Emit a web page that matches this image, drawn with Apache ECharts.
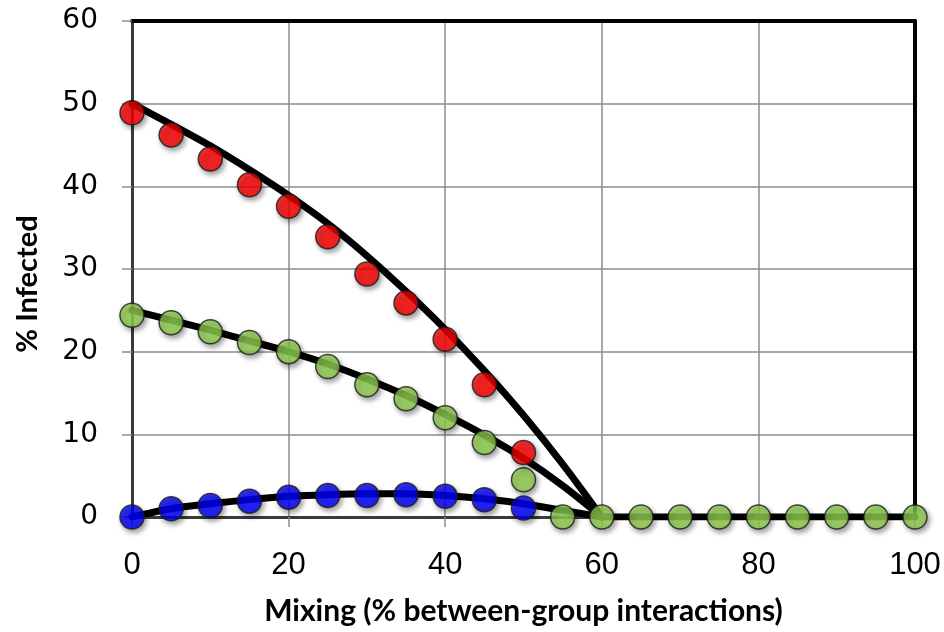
<!DOCTYPE html>
<html>
<head>
<meta charset="utf-8">
<script src="https://cdn.jsdelivr.net/npm/echarts@6/dist/echarts.min.js"></script>
<style>
  html, body { margin: 0; padding: 0; background: #fff; }
  #chart { width: 944px; height: 632px; }
</style>
</head>
<body>
<div id="chart"></div>
<script>
// Mixing level (% between-group interactions) for the simulated points
const mixing = [0, 5, 10, 15, 20, 25, 30, 35, 40, 45, 50, 55, 60, 65, 70, 75, 80, 85, 90, 95, 100];

// Simulated % infected (markers)
const redPoints   = [48.9, 46.2, 43.3, 40.2, 37.6, 33.9, 29.4, 25.9, 21.5, 16.0, 7.8];
const greenPoints = [24.4, 23.5, 22.4, 21.1, 20.0, 18.2, 16.0, 14.3, 12.0, 9.0, 4.5, 0, 0, 0, 0, 0, 0, 0, 0, 0, 0];
const bluePoints  = [0, 1.0, 1.4, 1.9, 2.4, 2.6, 2.6, 2.7, 2.5, 2.1, 1.1];

// Model curves (black lines), sampled on the same grid up to the threshold at 60
const curveX     = [0, 5, 10, 15, 20, 25, 30, 35, 40, 45, 50, 55, 60];
const redCurve   = [50, 47.5, 44.9, 42.0, 38.9, 35.5, 31.6, 27.3, 22.7, 17.7, 12.3, 6.4, 0];
const greenCurve = [25, 23.8, 22.6, 21.3, 20.0, 18.5, 16.7, 14.7, 12.4, 9.9, 7.1, 3.8, 0];
const blueCurve  = [0, 1.0, 1.6, 2.1, 2.5, 2.7, 2.8, 2.8, 2.6, 2.2, 1.6, 0.8, 0];

// Flat part beyond the threshold
const flatX = [60, 70, 80, 90, 100];
const flatY = [0, 0, 0, 0, 0];

const xTitle = 'Mixing (% between-group interactions)';
const yTitle = '% Infected';

const pairs = (xs, ys) => ys.map((y, i) => [xs[i], y]);

const chart = echarts.init(document.getElementById('chart'), null, { renderer: 'canvas' });

const gridStroke = '#8c8c8c';

function curve(name, xs, ys, smooth) {
  return {
    name, type: 'line', xAxisIndex: 0, yAxisIndex: 0,
    data: pairs(xs, ys),
    smooth: smooth,
    showSymbol: false, symbol: 'none',
    lineStyle: { color: '#000', width: 7, cap: 'round', join: 'round' },
    z: 3, silent: true
  };
}

function dots(name, xs, ys, color) {
  return {
    name, type: 'scatter', xAxisIndex: 0, yAxisIndex: 0,
    data: pairs(xs, ys),
    symbol: 'circle', symbolSize: 24,
    itemStyle: {
      color: color, borderColor: '#1a1a1a', borderWidth: 1.5,
      shadowColor: 'rgba(0,0,0,0.45)', shadowBlur: 5, shadowOffsetX: 2, shadowOffsetY: 3
    },
    z: 5, silent: true
  };
}

chart.setOption({
  backgroundColor: '#fff',
  animation: false,
  grid: { left: 132, right: 29, top: 21, bottom: 115, containLabel: false, outerBoundsMode: 'none' },
  xAxis: [
    {
      type: 'value', min: 0, max: 100, interval: 20, position: 'bottom',
      name: xTitle, nameLocation: 'middle', nameGap: 79,
      nameTextStyle: { fontFamily: 'Lato', fontWeight: 'bold', fontSize: 30, color: '#000' },
      axisLine: { show: true, onZero: false, lineStyle: { color: '#3a3a3a', width: 3 } },
      axisTick: { show: true, inside: false, length: 10, lineStyle: { color: gridStroke, width: 1.5 } },
      axisLabel: { fontFamily: 'Liberation Sans', fontSize: 31, color: '#000', margin: 33 },
      splitLine: { show: true, lineStyle: { color: gridStroke, width: 1.5 } }
    },
    {
      type: 'value', min: 0, max: 100, position: 'top',
      axisLine: { show: true, onZero: false, lineStyle: { color: '#000', width: 4 } },
      axisTick: { show: false }, axisLabel: { show: false }, splitLine: { show: false }
    }
  ],
  yAxis: [
    {
      type: 'value', min: 0, max: 60, interval: 10, position: 'left',
      name: yTitle, nameLocation: 'middle', nameGap: 90, nameRotate: 90,
      nameTextStyle: { fontFamily: 'Lato', fontWeight: 'bold', fontSize: 29, color: '#000', padding: [0, 30, 0, 0] },
      axisLine: { show: true, onZero: false, lineStyle: { color: '#3a3a3a', width: 3 } },
      axisTick: { show: true, inside: false, length: 10, lineStyle: { color: gridStroke, width: 1.5 } },
      axisLabel: { fontFamily: 'DejaVu Sans', fontSize: 28, color: '#000', margin: 34 },
      splitLine: { show: true, lineStyle: { color: gridStroke, width: 1.5 } }
    },
    {
      type: 'value', min: 0, max: 60, position: 'right',
      axisLine: { show: true, onZero: false, lineStyle: { color: '#000', width: 4 } },
      axisTick: { show: false }, axisLabel: { show: false }, splitLine: { show: false }
    }
  ],
  series: [
    curve('flat', flatX, flatY, false),
    curve('redCurve', curveX, redCurve, 0.3),
    curve('greenCurve', curveX, greenCurve, 0.3),
    curve('blueCurve', curveX, blueCurve, 0.3),
    dots('green', mixing, greenPoints, '#92D050'),
    dots('red', mixing.slice(0, redPoints.length), redPoints, '#FF0000'),
    dots('blue', mixing.slice(0, bluePoints.length), bluePoints, '#0000FF')
  ]
});
</script>
</body>
</html>
